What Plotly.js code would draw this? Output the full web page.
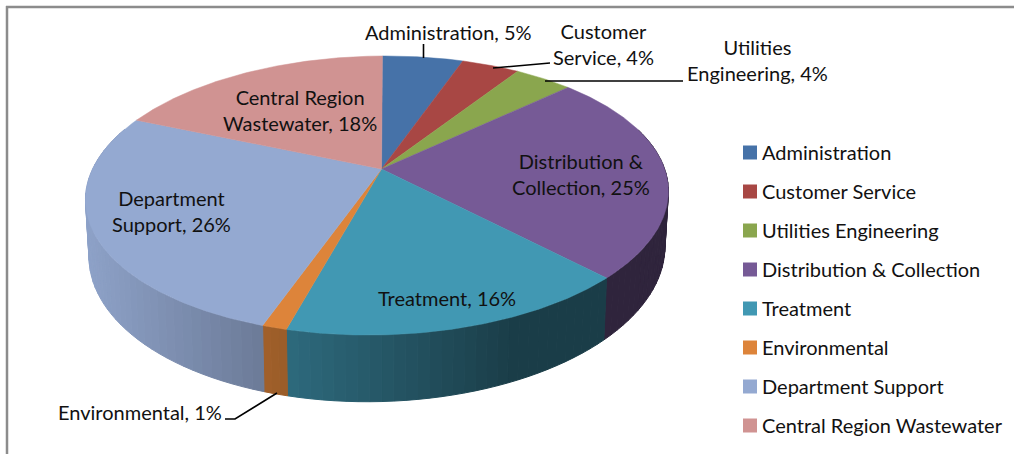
<!DOCTYPE html>
<html>
<head>
<meta charset="utf-8">
<script src="https://cdn.plot.ly/plotly-3.0.1.min.js"></script>
<style>html,body{margin:0;padding:0;background:#fff}#c{width:1014px;height:454px}</style>
</head>
<body>
<div id="c"></div>
<script>
const categories = ['Administration','Customer Service','Utilities Engineering','Distribution & Collection','Treatment','Environmental','Department Support','Central Region Wastewater'];
const values = [5.4,3.9,3.95,24.65,16.4,1.15,26.25,18.3];
const colors = ['#4672a8','#a84744','#8aa64e','#765a96','#4198b3','#dd843a','#94a9d1','#d09392'];
const sliceLabels = [
  ['Administration, 5%',448,32],
  ['Customer<br>Service, 4%',603,44],
  ['Utilities<br>Engineering, 4%',757,60],
  ['Distribution &<br>Collection, 25%',581,174],
  ['Treatment, 16%',447,298],
  ['Environmental, 1%',140,412],
  ['Department<br>Support, 26%',171,211],
  ['Central Region<br>Wastewater, 18%',300,110]
];
const leaders = [
  [[423.5,423.5],[44,58]],
  [[493,550],[68,63]],
  [[545,683],[81,81]],
  [[225,235,277],[419,419,393]]
];

const FONT = 'Lato, "Open Sans", sans-serif';
const total = values.reduce((a,b)=>a+b,0);
const START=-1.4;
const CX=381.5, CY=169, RX=286, RY=134.5, K=0.19, M=0.01, SHEAR=-0.06, DEPTH=54;
function top3d(deg){
  const t=deg*Math.PI/180, s=Math.sin(t), c=Math.cos(t), w=1+K*c+M*s;
  const y=CY-RY*c/w;
  return {x:CX+RX*s/w+SHEAR*(y-CY), y:y, w:w};
}
function bottom3d(deg){
  const p=top3d(deg);
  return {x:p.x-0.012*(p.x-CX), y:p.y+DEPTH/p.w};
}
function shade(hex,f){
  const n=parseInt(hex.slice(1),16);
  return 'rgb('+[(n>>16)&255,(n>>8)&255,n&255].map(v=>Math.round(v*f)).join(',')+')';
}
const traces=[];
let a0=START;
const spans=values.map(v=>{const r=[a0,a0+v/total*360];a0=r[1];return r;});
// side wall
spans.forEach((sp,i)=>{
  const from=Math.max(sp[0],72), to=Math.min(sp[1],288);
  if(to<=from) return;
  const n=Math.max(1,Math.ceil((to-from)/2));
  for(let j=0;j<n;j++){
    const a=from+(to-from)*j/n, b=from+(to-from)*(j+1)/n;
    const p1=top3d(a),p2=top3d(b),q1=bottom3d(a),q2=bottom3d(b);
    const xm=(p1.x+p2.x)/2;
    const f=Math.max(0.40,0.95-(xm-90)/410*0.53);
    const col=shade(colors[i],f);
    traces.push({type:'scatter',mode:'lines',x:[p1.x,p2.x,q2.x,q1.x,p1.x],y:[p1.y,p2.y,q2.y,q1.y,p1.y],
      fill:'toself',fillcolor:col,line:{color:col,width:1},showlegend:false,hoverinfo:'skip'});
  }
});
// top face
spans.forEach((sp,i)=>{
  const xs=[CX],ys=[CY];
  const n=Math.ceil(sp[1]-sp[0])*2;
  for(let j=0;j<=n;j++){const p=top3d(sp[0]+(sp[1]-sp[0])*j/n);xs.push(p.x);ys.push(p.y);}
  xs.push(CX);ys.push(CY);
  traces.push({type:'scatter',mode:'lines',x:xs,y:ys,fill:'toself',fillcolor:colors[i],
    line:{color:colors[i],width:0.5},showlegend:false,hoverinfo:'skip'});
});
// leader lines
leaders.forEach(l=>traces.push({type:'scatter',mode:'lines',x:l[0],y:l[1],line:{color:'#000',width:1.6},showlegend:false,hoverinfo:'skip'}));
// legend entries
categories.forEach((c,i)=>traces.push({type:'scatter',mode:'markers',x:[null],y:[null],name:c,legendgroup:c,
  marker:{symbol:'square',size:14,color:colors[i]},hoverinfo:'skip'}));

const layout={
  width:1014,height:454,margin:{l:0,r:0,t:0,b:0,autoexpand:false},paper_bgcolor:'#fff',plot_bgcolor:'#fff',
  xaxis:{range:[0,1014],visible:false,fixedrange:true},
  yaxis:{range:[454,0],visible:false,fixedrange:true},
  font:{family:FONT,size:20,color:'#111'},
  showlegend:true,
  legend:{x:737/1014,xanchor:'left',y:1-133/454,yanchor:'top',font:{family:FONT,size:20,color:'#111'},
    tracegroupgap:10,indentation:-15,bgcolor:'rgba(0,0,0,0)',itemclick:false,itemdoubleclick:false},
  annotations:sliceLabels.map(l=>({text:l[0],x:l[1],y:l[2],xref:'x',yref:'y',showarrow:false,
    xanchor:'center',yanchor:'middle',align:'center',font:{family:FONT,size:20,color:'#111'}})),
  shapes:[
    {type:'line',xref:'x',yref:'y',x0:6,x1:1014,y0:7,y1:7,line:{color:'#8c8c8c',width:2.5}},
    {type:'line',xref:'x',yref:'y',x0:7,x1:7,y0:6,y1:454,line:{color:'#8c8c8c',width:2.5}}
  ]
};
Plotly.newPlot('c',traces,layout,{displayModeBar:false,staticPlot:true}).then(()=>{
  document.querySelectorAll('#c .legend .legendpoints').forEach(el=>{
    el.setAttribute('transform','translate(8,0) '+(el.getAttribute('transform')||''));
  });
});
</script>
</body>
</html>
